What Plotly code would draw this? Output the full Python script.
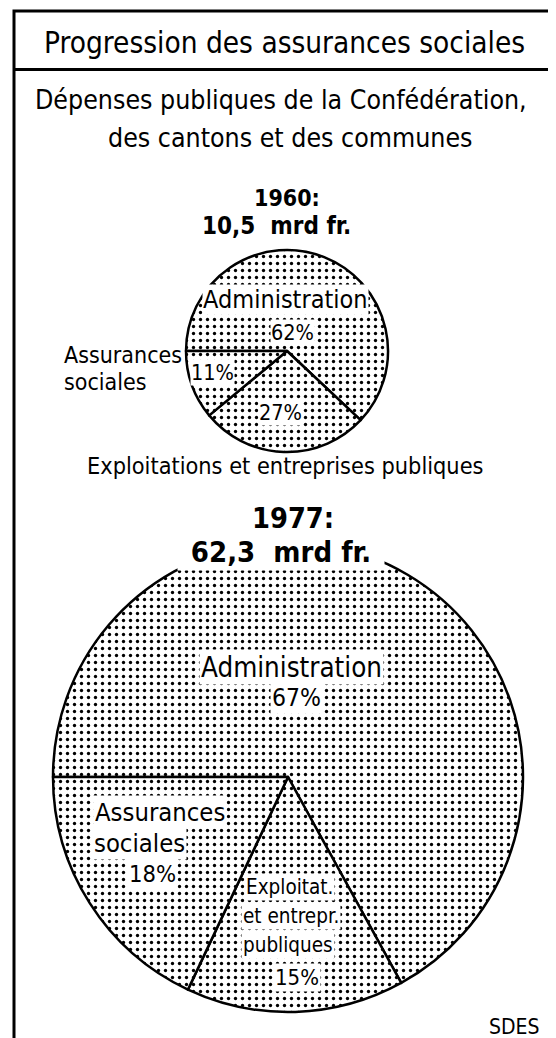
import plotly.graph_objects as go

# page body has an 8px margin: the figure starts at (8, 8)
OFF = 8
W, H = 548, 1030

# ---- data ----
categories = ["Administration", "Exploitations et entreprises publiques", "Assurances sociales"]
values_1960 = [62, 27, 11]
values_1977 = [67, 15, 18]
title = "Progression des assurances sociales"
subtitle = ["Dépenses publiques de la Confédération,", "des cantons et des communes"]
year_1960 = ["1960:", "10,5  mrd fr."]
year_1977 = ["1977:", "62,3  mrd fr."]
source = "SDES"

FONT = "DejaVu Sans Condensed, Liberation Sans Narrow, Arial Narrow, sans-serif"


def X(px):
    return (px - OFF) / W


def Y(py):
    return 1 - (py - OFF) / H


pattern = dict(shape=".", fgcolor="black", bgcolor="white", size=7, solidity=0.18)

fig = go.Figure()

# 1960 pie
fig.add_trace(go.Pie(
    labels=categories, values=values_1960, sort=False, direction="clockwise",
    rotation=270, textinfo="none", hoverinfo="label+percent",
    marker=dict(colors=["white"] * 3, line=dict(color="black", width=2.5), pattern=pattern),
    domain=dict(x=[X(186), X(388)], y=[Y(452), Y(250)]),
    showlegend=False,
))

# 1977 pie
fig.add_trace(go.Pie(
    labels=categories, values=values_1977, sort=False, direction="clockwise",
    rotation=270, textinfo="none", hoverinfo="label+percent",
    marker=dict(colors=["white"] * 3, line=dict(color="black", width=2.5), pattern=pattern),
    domain=dict(x=[X(53), X(523)], y=[Y(1012), Y(542)]),
    showlegend=False,
))

anns = []


def txt(text, px, py, size, bold=False, bg=None, xanchor="center", pad=1, width=None, height=None):
    d = dict(text=("<b>%s</b>" % text) if bold else text, x=X(px), y=Y(py), xref="paper", yref="paper",
             showarrow=False, xanchor=xanchor, yanchor="middle",
             font=dict(family=FONT, size=size, color="black"), borderpad=pad)
    if bg:
        d["bgcolor"] = bg
    if width:
        d["width"] = width
    if height:
        d["height"] = height
    anns.append(d)


txt(title, 284, 43, 29.5)
txt(subtitle[0], 281, 99, 26.5)
txt(subtitle[1], 290, 137, 26.5)
txt(year_1960[0], 287, 198, 23, bold=True)
txt(year_1960[1], 276, 226, 24, bold=True)

# 1960 labels
txt(categories[0], 285, 300, 25, bg="white", pad=0)
txt("%d%%" % values_1960[0], 292, 332, 21.5, bg="white", pad=0)
txt("%d%%" % values_1960[2], 212, 372, 21.5, bg="white", pad=0)
txt("%d%%" % values_1960[1], 280, 412, 21.5, bg="white", pad=0)
txt("Assurances", 62, 355, 23, xanchor="left")
txt("sociales", 62, 382, 23, xanchor="left")
txt(categories[1], 285, 466, 23.3)

# 1977 title (white box interrupts the pie outline)
txt(year_1977[1], 281, 552, 29, bold=True, bg="white", pad=0, width=206, height=36)
txt(year_1977[0], 293, 518, 28.7, bold=True)

# 1977 labels
txt(categories[0], 291, 667, 27.5, bg="white", pad=1)
txt("%d%%" % values_1977[0], 296, 697, 24.5, bg="white", pad=1)
txt("Assurances", 93, 812, 25.4, bg="white", pad=1, xanchor="left")
txt("sociales", 92, 843, 25.4, bg="white", pad=1, xanchor="left")
txt("%d%%" % values_1977[2], 152, 874, 23.5, bg="white", pad=1)
txt("Exploitat.", 289, 887, 20.5, bg="white", pad=1)
txt("et entrepr.", 291, 916, 20.5, bg="white", pad=1)
txt("publiques", 288, 945, 20.5, bg="white", pad=1)
txt("%d%%" % values_1977[1], 297, 977, 22, bg="white", pad=1)

txt(source, 514, 1027, 21)

shapes = [
    dict(type="rect", xref="paper", yref="paper", x0=X(14), x1=X(575), y0=Y(11), y1=Y(1060),
         line=dict(color="black", width=3), fillcolor="rgba(0,0,0,0)", layer="above"),
    dict(type="line", xref="paper", yref="paper", x0=X(14), x1=X(575), y0=Y(69.5), y1=Y(69.5),
         line=dict(color="black", width=3), layer="above"),
]

fig.update_layout(
    width=W, height=H, margin=dict(l=0, r=0, t=0, b=0),
    paper_bgcolor="white", plot_bgcolor="white",
    annotations=anns, shapes=shapes, showlegend=False,
)

fig.write_html("out.html")
